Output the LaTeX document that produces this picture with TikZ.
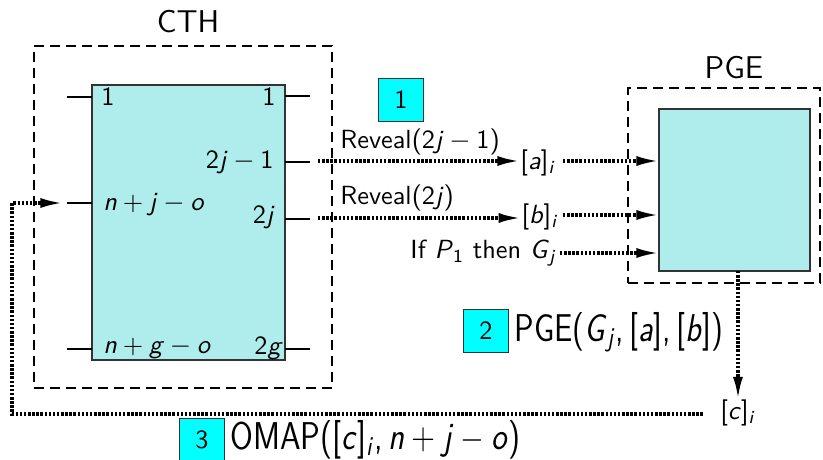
\documentclass[tikz,border=0pt]{standalone}
\usetikzlibrary{arrows.meta}
\definecolor{pale}{RGB}{175,236,236}
\definecolor{numcyan}{RGB}{0,255,255}
\newcommand\myplus{\hspace{0.22em}+\hspace{0.22em}}
\newcommand\myminus{\hspace{0.22em}$-$\hspace{0.22em}}
\newcommand\mycomma{,\hspace{0.17em}}
\newcommand\vv[1]{\textit{#1}}
\begin{document}
\begin{tikzpicture}[x=0.4pt,y=-0.4pt,
  font=\sffamily\fontsize{10.5}{12}\selectfont,
  dbox/.style={draw, line width=0.6pt, dash pattern=on 4pt off 2.4pt, inner sep=0pt, outer sep=0pt},
  blk/.style={draw=black!80, fill=pale, line width=0.8pt, inner sep=0pt, outer sep=0pt},
  pin/.style={draw, line width=0.6pt},
  lab/.style={inner sep=0pt},
  num/.style={draw=black!80, line width=0.6pt, fill=numcyan, minimum width=18pt, minimum height=17.2pt, inner sep=0pt},
  dots/.style={line width=1.3pt, dash pattern=on 1pt off 0.65pt},
  arr/.style={-{Latex[length=9pt,width=4pt]}},
  big/.style={font=\sffamily\fontsize{12.6}{14}\selectfont},
  huge/.style={font=\sffamily\fontsize{15.5}{17}\selectfont}
]
\useasboundingbox (0,0) rectangle (823,460);

% CTH
\node[big] (cthlab) at (188,22) {CTH};
\node[dbox, minimum width=119.2pt, minimum height=136.8pt] (cth) at (183,217) {};
\node[blk, minimum width=77.2pt, minimum height=110pt] (circ) at (188.5,222.5) {};

% pins
\coordinate (lp1) at (67,97);
\coordinate (lp2) at (67,203);
\coordinate (lp3) at (67,349);
\coordinate (rp1) at (310,96);
\coordinate (rp2) at (310,162);
\coordinate (rp3) at (310,219);
\coordinate (rp4) at (310,349);
\draw[pin] (lp1) -- (lp1 -| circ.west);
\draw[pin] (lp2) -- (lp2 -| circ.west);
\draw[pin] (lp3) -- (lp3 -| circ.west);
\draw[pin] (rp1) -- (rp1 -| circ.east);
\draw[pin] (rp2) -- (rp2 -| circ.east);
\draw[pin] (rp3) -- (rp3 -| circ.east);
\draw[pin] (rp4) -- (rp4 -| circ.east);

% labels inside
\node[lab, anchor=west] (in1) at (101,97) {1};
\node[lab, anchor=east] (out1) at (276,97) {1};
\node[lab, anchor=east] (out2) at (274,162) {2\vv{j}\myminus 1};
\node[lab, anchor=west] (in2) at (103,205) {\vv{n}\myplus\vv{j}\myminus\vv{o}};
\node[lab, anchor=east] (out3) at (275,217) {2\vv{j}};
\node[lab, anchor=west] (in3) at (103,348) {\vv{n}\myplus\vv{g}\myminus\vv{o}};
\node[lab, anchor=east] (out4) at (283,348) {2\vv{g}};

% step 1
\node[num] (n1) at (401,100) {1};
\node[lab, anchor=west] (rv1) at (340,142) {Reveal(2\vv{j}\myminus 1)};
\node[lab, anchor=west] (rv2) at (340,198) {Reveal(2\vv{j})};
\node[lab] (a) at (538,163) {[\vv{a}]\textsubscript{\vv{i}}};
\node[lab] (b) at (540,217) {[\vv{b}]\textsubscript{\vv{i}}};
\node[lab, anchor=east] (g) at (557,253) {If \vv{P}\textsubscript{1} then \vv{G}\textsubscript{\vv{j}}};

% PGE
\node[big] (pgelab) at (734,68) {PGE};
\node[dbox, minimum width=76.8pt, minimum height=78pt] (pge) at (724,185.5) {};
\node[blk, minimum width=60.4pt, minimum height=64.8pt] (gate) at (734.5,190) {};

\coordinate (s2) at (318,161);
\coordinate (s3) at (318,218);
\draw[dots,arr] (s2) -- (s2 -| a.west);
\draw[dots,arr] (s3) -- (s3 -| b.west);
\coordinate (a2) at (563,161);
\coordinate (b2) at (563,215);
\coordinate (g2) at (560,253);
\draw[dots,arr] (a2) -- (a2 -| gate.west);
\draw[dots,arr] (b2) -- (b2 -| gate.west);
\draw[dots,arr] (g2) -- (g2 -| gate.west);

% step 2
\node[num] (n2) at (486,331) {2};
\node[huge, lab, anchor=west] (pgecall) at (514,332) {\scalebox{0.84}[1]{PGE(\vv{G}\textsubscript{\vv{j}}\mycomma[\vv{a}]\mycomma[\vv{b}])}};
\node[lab] (c) at (738,413) {[\vv{c}]\textsubscript{\vv{i}}};
\coordinate (cdown) at (738,271);
\draw[dots,arr] (cdown) -- (c.north);

% step 3
\coordinate (c2) at (703,414);
\coordinate (corner) at (12,414);
\coordinate (tipend) at (63,203);
\draw[dots,arr] (c2) -- (corner) |- (tipend);
\node[num] (n3) at (202,440) {3};
\node[huge, lab, anchor=west] (omap) at (230,440) {\scalebox{0.85}[1]{OMAP([\vv{c}]\textsubscript{\vv{i}}\mycomma\vv{n}\myplus\vv{j}\myminus\vv{o})}};
\end{tikzpicture}
\end{document}
